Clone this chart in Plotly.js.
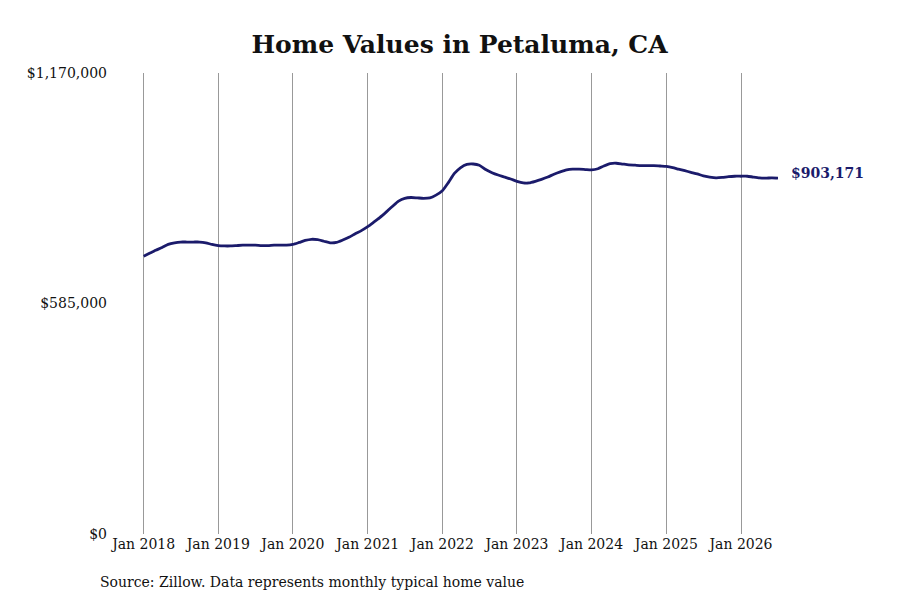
<!DOCTYPE html>
<html>
<head>
<meta charset="utf-8">
<script src="https://cdn.plot.ly/plotly-3.0.1.min.js"></script>
<style>
    body { margin: 0; background: #fff; }
    #chart { width: 900px; height: 600px; }
</style>
</head>
<body>
<div id="chart"></div>
<script>
// monthly typical home value, Jan 2018 .. Jul 2026 (in $)
const startYear = 2018;
const homeValues = [
    705000, 713000, 720000, 727000, 735000, 739000, 741000, 741000, 741000, 741000, 739000, 735000,
    732000, 731000, 731000, 732000, 733000, 733000, 733000, 732000, 732000, 733000, 733000, 733000,
    735000, 740000, 745000, 748000, 747000, 743000, 739000, 740000, 746000, 753000, 762000, 770000,
    780000, 792000, 803000, 817000, 831000, 845000, 852000, 854000, 853000, 852000, 853000, 860000,
    871000, 893000, 915000, 930000, 938000, 939000, 936000, 925000, 917000, 911000, 906000, 901000,
    895000, 891000, 891000, 895000, 900000, 906000, 913000, 919000, 924000, 926000, 926000, 925000,
    924000, 927000, 934000, 940000, 941000, 939000, 937000, 936000, 935000, 935000, 935000, 934000,
    933000, 930000, 926000, 922000, 918000, 914000, 909000, 906000, 904000, 905000, 907000, 908000,
    908000, 908000, 906000, 904000, 903000, 904000, 903171
];
const yTicks = [0, 585000, 1170000];
const yTickLabels = ["$0", "$585,000", "$1,170,000"];
const xTickYears = [2018, 2019, 2020, 2021, 2022, 2023, 2024, 2025, 2026];

// build the monthly dates
let dates = [];
for (let i = 0; i < homeValues.length; i++) {
    let y = startYear + Math.floor(i / 12);
    let m = (i % 12) + 1;
    dates.push(y + "-" + String(m).padStart(2, "0") + "-01");
}
let xTicks = xTickYears.map(y => y + "-01-01");
let xTickText = xTickYears.map(y => "Jan " + y);

let lastValue = homeValues[homeValues.length - 1];
let serif = "DejaVu Serif, Liberation Serif, serif";

let data = [{
    x: dates,
    y: homeValues,
    type: "scatter",
    mode: "lines",
    hoverinfo: "skip",
    line: {color: "#1b1b6b", width: 2.8, shape: "spline", smoothing: 0.6}
}];

let layout = {
    width: 900,
    height: 600,
    showlegend: false,
    paper_bgcolor: "#fff",
    plot_bgcolor: "#fff",
    margin: {l: 141, r: 122, t: 73, b: 66},
    font: {family: serif, size: 14, color: "#111"},
    title: {
        text: "<b>Home Values in Petaluma, CA</b>",
        font: {family: serif, size: 25, color: "#111"},
        x: 0.5,
        xref: "paper",
        y: 0.927,
        yref: "container",
        yanchor: "middle"
    },
    xaxis: {
        type: "date",
        // start a bit before the first month so the Jan 2018 grid line is drawn
        range: ["2017-12-19", dates[dates.length - 1]],
        tickvals: xTicks,
        ticktext: xTickText,
        showgrid: true,
        gridcolor: "#999",
        gridwidth: 1,
        zeroline: false,
        showline: false,
        ticks: "",
        tickfont: {family: serif, size: 14, color: "#111"},
        fixedrange: true
    },
    yaxis: {
        range: [0, 1170000],
        tickvals: yTicks,
        ticktext: yTickLabels,
        showgrid: false,
        zeroline: false,
        showline: false,
        ticks: "",
        ticklabelstandoff: 33,
        tickfont: {family: serif, size: 14, color: "#111"},
        fixedrange: true
    },
    annotations: [
        {
            x: dates[dates.length - 1],
            y: lastValue,
            xref: "x",
            yref: "y",
            text: "<b>$" + lastValue.toLocaleString("en-US") + "</b>",
            showarrow: false,
            xanchor: "left",
            xshift: 11,
            yshift: 5,
            font: {family: serif, size: 14, color: "#1b1b6b"}
        },
        {
            text: "Source: Zillow. Data represents monthly typical home value",
            xref: "paper",
            yref: "paper",
            showarrow: false,
            xanchor: "left",
            yanchor: "middle",
            font: {family: serif, size: 14, color: "#111"}
        }
    ]
};

// the source note sits in pixel space, convert to paper coordinates
let plotW = 900 - 141 - 122;
let plotH = 600 - 73 - 66;
layout.annotations[1].x = (98 - 141) / plotW;
layout.annotations[1].y = (534 - 582) / plotH;

Plotly.newPlot("chart", data, layout, {displayModeBar: false, staticPlot: true});
</script>
</body>
</html>
